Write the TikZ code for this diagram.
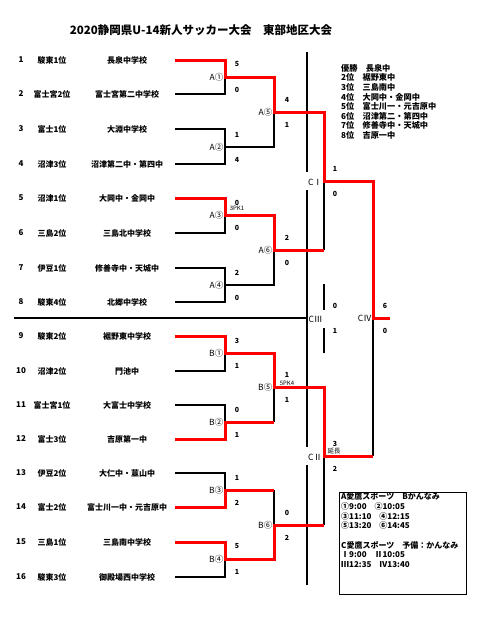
\documentclass[tikz,border=0pt]{standalone}
\usepackage{fontspec}
\setmainfont{Noto Sans CJK JP}
\begin{document}
\begin{tikzpicture}[x=1pt,y=-1pt,
  bl/.style={line width=1.2pt, black},
  rd/.style={line width=3pt, red, line join=miter},
  txt/.style={inner sep=0pt, font=\fontsize{8}{9}\selectfont\bfseries},
  lbl/.style={inner sep=0pt, font=\fontsize{8.5}{9}\selectfont},
  sc/.style={inner sep=0pt, font=\fontsize{7}{8}\selectfont\bfseries},
  pk/.style={inner sep=0pt, font=\fontsize{6}{6}\selectfont},
]
\useasboundingbox[fill=white] (0,0) rectangle (487,619);

\node[inner sep=0pt, font=\fontsize{11.5}{12}\selectfont\bfseries] (title) at (201,30) {2020静岡県U-14新人サッカー大会　東部地区大会};

% teams
\foreach \n/\y/\rk/\nm in {
  1/60/駿東1位/長泉中学校,
  2/94/富士宮2位/富士宮第二中学校,
  3/129/富士1位/大淵中学校,
  4/164/沼津3位/沼津第二中・第四中,
  5/198/沼津1位/大岡中・金岡中,
  6/233/三島2位/三島北中学校,
  7/268/伊豆1位/修善寺中・天城中,
  8/302/駿東4位/北郷中学校,
  9/336/駿東2位/裾野東中学校,
  10/371/沼津2位/門池中,
  11/405/富士宮1位/大富士中学校,
  12/439/富士3位/吉原第一中,
  13/473/伊豆2位/大仁中・韮山中,
  14/507/富士2位/富士川一中・元吉原中,
  15/542/三島1位/三島南中学校,
  16/577/駿東3位/御殿場西中学校}{
  \node[txt] (num\n) at (21,\y) {\n};
  \node[txt] (rank\n) at (52,\y) {\rk};
  \node[txt] (team\n) at (127,\y) {\nm};
  \coordinate (s\n) at (175,\y);
}

% match points
\coordinate (A1) at (225,77);
\coordinate (A2) at (225,147);
\coordinate (A3) at (225,215);
\coordinate (A4) at (225,285);
\coordinate (B1) at (225,353);
\coordinate (B2) at (225,422);
\coordinate (B3) at (225,490);
\coordinate (B4) at (225,559);
\coordinate (A5) at (274,112);
\coordinate (A6) at (274,250);
\coordinate (B5) at (274,387);
\coordinate (B6) at (274,525);
\coordinate (C1) at (324,181);
\coordinate (C2) at (324,456);
\coordinate (C3) at (324,318);
\coordinate (C4) at (373,318);
\coordinate (F) at (390,318);

% black lines
\draw[bl] (s2) -| (A1);
\draw[bl] (s3) -| (A2);
\draw[bl] (s4) -| (A2) -- (A2 -| A5) -- (A5);
\draw[bl] (s6) -| (A3);
\draw[bl] (s7) -| (A4);
\draw[bl] (s8) -| (A4) -- (A4 -| A6) -- (A6);
\draw[bl] (C1) -- (A6 -| C1);
\draw[bl] (s10) -| (B1);
\draw[bl] (s11) -| (B2);
\draw[bl] (B2 -| B5) -- (B5);
\draw[bl] (s13) -| (B3);
\draw[bl] (B3 -| B6) -- (B6);
\draw[bl] (s16) -| (B4);
\draw[bl] (C2) -- (B6 -| C2);
\draw[bl] (C4) -- (C2 -| C4);
\draw[bl] (324,284) -- (324,310);
\draw[bl] (324,328) -- (324,353);
\draw[bl] (307,52) -- (307,172);
\draw[bl] (307,190) -- (307,447);
\draw[bl] (307,465) -- (307,585);
\coordinate (sepL) at (14,318);
\draw[bl] (sepL) -- (sepL -| 307,0);

% red lines
\draw[rd] (s1) -| (A1) -- (A1 -| A5) -- (A5) -- (A5 -| C1) -- (C1) -- (C1 -| C4) -- (C4) -- (F);
\draw[rd] (s5) -| (A3) -- (A3 -| A6) -- (A6) -- (A6 -| C1);
\draw[rd] (s9) -| (B1) -- (B1 -| B5) -- (B5) -- (B5 -| C2) -- (C2) -- (C2 -| C4);
\draw[rd] (s12) -| (B2) -- (B2 -| B5);
\draw[rd] (s14) -| (B3) -- (B3 -| B6);
\draw[rd] (s15) -| (B4) -- (B4 -| B6) -- (B6) -- (B6 -| C2);

% match labels
\foreach \m/\t in {A1/A①,A2/A②,A3/A③,A4/A④,B1/B①,B2/B②,B3/B③,B4/B④,A5/A⑤,A6/A⑥,B5/B⑤,B6/B⑥}{
  \node[lbl, anchor=east] (l\m) at ([xshift=-1.5pt]\m) {\t};
}
\node[lbl, anchor=west] (lC1) at (308,182) {CⅠ};
\node[lbl, anchor=west] (lC2) at (308,457) {CⅡ};
\node[lbl, anchor=west] (lC3) at (308.5,319) {CⅢ};
\node[lbl, anchor=east] (lC4) at (372,318) {CⅣ};

% scores
\foreach \m/\xx/\a/\b in {A1/237/5/0, A2/237/1/4, A3/237/0/0, A4/237/2/0,
  B1/237/3/1, B2/237/0/1, B3/237/1/2, B4/237/5/1,
  A5/287/4/1, A6/287/2/0, B5/287/1/1, B6/287/0/2,
  C1/335/1/0, C2/335/3/2, C3/335/0/1, C4/385/6/0}{
  \node[sc] (sa\m) at ([yshift=12.5pt]\m -| \xx,0) {\a};
  \node[sc] (sb\m) at ([yshift=-13pt]\m -| \xx,0) {\b};
}
\node[pk] (pkA3) at (237,208) {3PK1};
\node[pk] (pkB5) at (287,383.5) {5PK4};
\node[pk, font=\fontsize{6.5}{7}\selectfont] (enB) at (334,451.5) {延長};

% results
\node[inner sep=0pt, anchor=north west, align=left, font=\fontsize{8.2}{9.6}\selectfont\bfseries] (res) at (341,64) {
優勝　長泉中\\
2位　裾野東中\\
3位　三島南中\\
4位　大岡中・金岡中\\
5位　富士川一・元吉原中\\
6位　沼津第二・第四中\\
7位　修善寺中・天城中\\
8位　吉原一中};

% schedule box
\node[draw, line width=1.2pt, minimum width=127pt, minimum height=102pt, anchor=north west, inner sep=0pt] (box) at (339,492) {};
\node[inner sep=0pt, anchor=north west, align=left, font=\fontsize{8}{9.7}\selectfont\bfseries] (sched) at ([xshift=2pt,yshift=-0.5pt]box.north west) {
A愛鷹スポーツ　Bかんなみ\\
①9:00　②10:05\\
③11:10　④12:15\\
⑤13:20　⑥14:45\\[9.7pt]
C愛鷹スポーツ　予備：かんなみ\\
Ⅰ9:00　Ⅱ10:05\\
Ⅲ12:35　Ⅳ13:40};
\end{tikzpicture}
\end{document}
